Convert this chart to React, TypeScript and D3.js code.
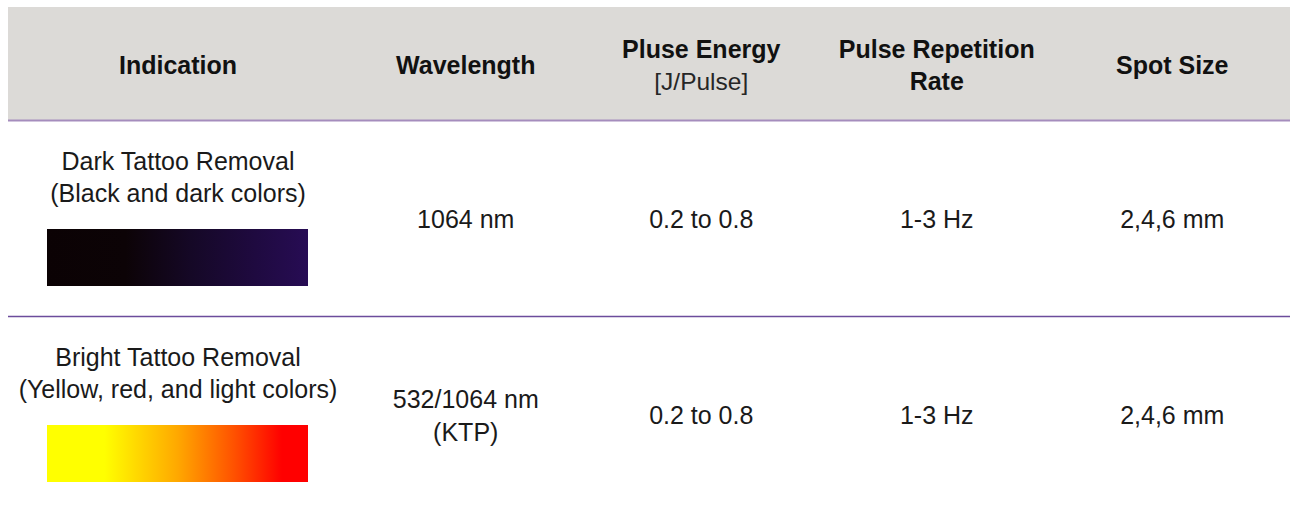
import React from "react";
import * as d3 from "d3";

const headers: string[][] = [["Indication"], ["Wavelength"], ["Pluse Energy"], ["Pulse Repetition", "Rate"], ["Spot Size"]];
const headerSub: string[] = ["", "", "[J/Pulse]", "", ""];
const indications: string[][] = [
  ["Dark Tattoo Removal", "(Black and dark colors)"],
  ["Bright Tattoo Removal", "(Yellow, red, and light colors)"],
];
const wavelengths: string[][] = [["1064 nm"], ["532/1064 nm", "(KTP)"]];
const energies: string[] = ["0.2 to 0.8", "0.2 to 0.8"];
const rates: string[] = ["1-3 Hz", "1-3 Hz"];
const spots: string[] = ["2,4,6 mm", "2,4,6 mm"];
const swatchIds: string[] = ["darkGrad", "brightGrad"];

const W = 1290;
const H = 511;
const left = 8;
const firstColW = 340;
const headerTop = 7;
const headerBottom = 120;
const rowH = 196;
const font = "'Liberation Sans', Arial, Helvetica, sans-serif";

export default function App() {
  const colScale = d3
    .scaleBand<number>()
    .domain([1, 2, 3, 4])
    .range([left + firstColW, W]);
  const colCenter = (i: number) =>
    i === 0 ? left + firstColW / 2 : (colScale(i) as number) + colScale.bandwidth() / 2;
  const rowScale = d3.scaleLinear().domain([0, 1]).range([headerBottom + 1, headerBottom + 1 + rowH]);

  const headerMid = (headerTop + headerBottom) / 2;

  return (
    <svg
      width={W}
      height={H}
      style={{ position: "absolute", left: 0, top: 0, display: "block", background: "#fff" }}
      fontFamily={font}
    >
      <defs>
        <linearGradient id="darkGrad" x1="0" x2="1" y1="0" y2="0">
          <stop offset="0" stopColor="#0b0204" />
          <stop offset="0.3" stopColor="#0c0306" />
          <stop offset="0.55" stopColor="#150826" />
          <stop offset="0.8" stopColor="#1f0a40" />
          <stop offset="1" stopColor="#270c54" />
        </linearGradient>
        <linearGradient id="brightGrad" x1="0" x2="1" y1="0" y2="0">
          <stop offset="0" stopColor="#ffff00" />
          <stop offset="0.22" stopColor="#ffff00" />
          <stop offset="0.5" stopColor="#ffa800" />
          <stop offset="0.72" stopColor="#ff5000" />
          <stop offset="0.9" stopColor="#ff0000" />
          <stop offset="1" stopColor="#ff0000" />
        </linearGradient>
      </defs>

      {/* header band */}
      <rect x={left} y={headerTop} width={W - left} height={headerBottom - headerTop} fill="#dcdad7" />
      <line x1={left} x2={W} y1={headerBottom + 0.5} y2={headerBottom + 0.5} stroke="#a58dbd" strokeWidth={2} />

      {headers.map((lines, i) => {
        const sub = headerSub[i];
        const all = sub ? [...lines, sub] : lines;
        const n = all.length;
        const base0 = headerMid + 9 - ((n - 1) * 32) / 2 + 1;
        return (
          <g key={i}>
            {lines.map((t, j) => (
              <text
                key={j}
                x={colCenter(i)}
                y={base0 + j * 32}
                textAnchor="middle"
                fontSize={25}
                fontWeight={700}
                fill="#111"
              >
                {t}
              </text>
            ))}
            {sub && (
              <text
                x={colCenter(i)}
                y={base0 + lines.length * 32}
                textAnchor="middle"
                fontSize={24.5}
                fill="#262626"
              >
                {sub}
              </text>
            )}
          </g>
        );
      })}

      {/* row separator */}
      <line
        x1={left}
        x2={W}
        y1={rowScale(1) - 0.5}
        y2={rowScale(1) - 0.5}
        stroke="#6c4c9c"
        strokeWidth={1.6}
      />

      {indications.map((lines, r) => {
        const top = rowScale(r);
        const mid = top + 98;
        const cells: string[][] = [wavelengths[r], [energies[r]], [rates[r]], [spots[r]]];
        return (
          <g key={r}>
            {lines.map((t, j) => (
              <text
                key={j}
                x={colCenter(0)}
                y={top + 49 + j * 32}
                textAnchor="middle"
                fontSize={25}
                fill="#1a1a1a"
              >
                {t}
              </text>
            ))}
            <rect x={47} y={top + 108} width={261} height={57} fill={`url(#${swatchIds[r]})`} />
            {cells.map((cl, c) =>
              cl.map((t, j) => (
                <text
                  key={`${c}-${j}`}
                  x={colCenter(c + 1)}
                  y={mid + 9 - ((cl.length - 1) * 33) / 2 + j * 33}
                  textAnchor="middle"
                  fontSize={25}
                  fill="#1a1a1a"
                >
                  {t}
                </text>
              ))
            )}
          </g>
        );
      })}
    </svg>
  );
}
